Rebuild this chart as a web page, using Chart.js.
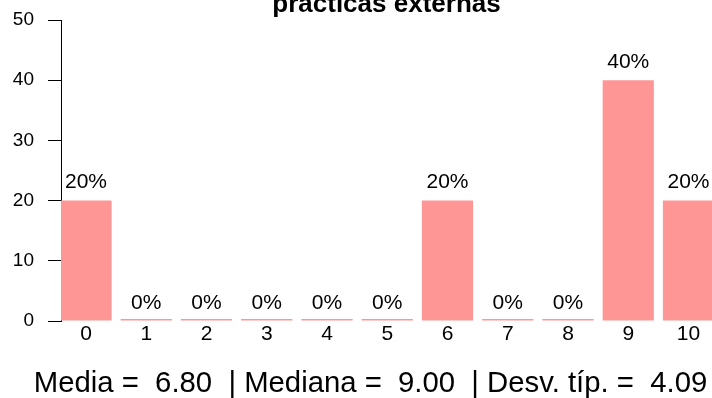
<!DOCTYPE html>
<html>
<head>
<meta charset="utf-8">
<script src="https://cdn.jsdelivr.net/npm/chart.js@4/dist/chart.umd.min.js"></script>
<style>
  html, body { margin: 0; padding: 0; background: #fff; }
  #wrap { width: 712px; height: 398px; position: relative; }
</style>
</head>
<body>
<div id="wrap"><canvas id="c" width="712" height="398"></canvas></div>
<script>
const titleText = 'prácticas externas';
const categories = ['0', '1', '2', '3', '4', '5', '6', '7', '8', '9', '10'];
const values = [20, 0, 0, 0, 0, 0, 20, 0, 0, 40, 20];
const pctLabels = ['20%', '0%', '0%', '0%', '0%', '0%', '20%', '0%', '0%', '40%', '20%'];
const yTicks = [0, 10, 20, 30, 40, 50];
const statsText = 'Media =  6.80  | Mediana =  9.00  | Desv. típ. =  4.09';

const FONT = '"Liberation Sans", Arial, Helvetica, sans-serif';
const BAR = 'rgb(255,150,150)';

const textPlugin = {
  id: 'texts',
  afterDatasetsDraw(chart) {
    const ctx = chart.ctx;
    const meta = chart.getDatasetMeta(0);
    const ys = chart.scales.y;
    ctx.save();
    ctx.fillStyle = '#000';
    ctx.textAlign = 'center';
    ctx.textBaseline = 'alphabetic';
    ctx.font = '21px ' + FONT;
    meta.data.forEach((bar, i) => {
      const top = ys.getPixelForValue(values[i]);
      ctx.fillText(pctLabels[i], bar.x, top - 12.5);
    });
    // title (cut at top)
    ctx.font = 'bold 26px ' + FONT;
    const ca = chart.chartArea;
    ctx.fillText(titleText, (ca.left + ca.right) / 2, 12);
    // stats line
    ctx.font = '29.3px ' + FONT;
    ctx.fillText(statsText, 370.5, 391.5);
    ctx.restore();
  }
};

new Chart(document.getElementById('c'), {
  type: 'bar',
  data: {
    datasets: [{
      data: values.map((v, i) => ({ x: i, y: v })),
      backgroundColor: BAR,
      borderWidth: 0,
      minBarLength: 2,
      categoryPercentage: 1,
      barPercentage: 0.85
    }]
  },
  options: {
    responsive: false,
    animation: false,
    devicePixelRatio: 1,
    layout: { padding: { top: 20, left: 0, right: 0, bottom: 0 } },
    plugins: { legend: { display: false }, tooltip: { enabled: false }, title: { display: false } },
    scales: {
      x: {
        type: 'linear',
        offset: false,
        min: -0.415,
        max: 10.39,
        afterBuildTicks(s) { s.ticks = categories.map((c, i) => ({ value: i })); },
        afterFit(s) { s.height = 77; s.paddingLeft = 0; s.paddingRight = 0; },
        grid: { display: false, drawTicks: false, offset: false },
        border: { display: false },
        ticks: {
          autoSkip: false,
          maxRotation: 0,
          padding: 1,
          color: '#000',
          font: { family: FONT, size: 21 },
          callback: (v, i) => categories[i]
        }
      },
      y: {
        min: 0,
        max: 50,
        afterBuildTicks(s) { s.ticks = yTicks.map(v => ({ value: v })); },
        afterFit(s) { s.width = 61; s.paddingTop = 0; s.paddingBottom = 0; },
        grid: { drawOnChartArea: false, drawTicks: true, tickLength: 13, color: '#000', lineWidth: 1 },
        border: { display: true, color: '#000', width: 1 },
        ticks: {
          padding: 14,
          color: '#000',
          font: { family: FONT, size: 19 }
        }
      }
    }
  },
  plugins: [textPlugin]
});
</script>
</body>
</html>
